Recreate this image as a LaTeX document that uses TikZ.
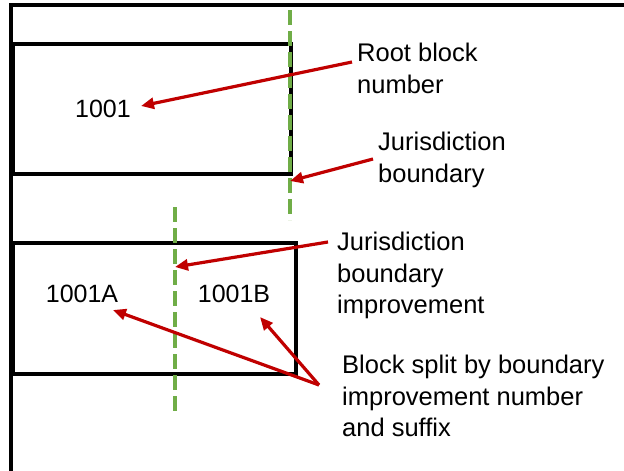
\documentclass[tikz,border=0pt]{standalone}
\usepackage{fontspec}
\setmainfont{Liberation Sans}
\usetikzlibrary{arrows.meta}
\definecolor{arrowred}{HTML}{C00000}
\definecolor{bgreen}{HTML}{70AD47}
\begin{document}
\begin{tikzpicture}[x=1pt,y=-1pt,
  frameline/.style={line width=3.2pt, black},
  block/.style={draw=black, line width=3.2pt},
  bound/.style={bgreen, line width=4.2pt, dash pattern=on 15pt off 6pt},
  callout/.style={arrowred, line width=3.2pt, -{Triangle[length=13pt,width=11pt]}},
  lbl/.style={anchor=north west, inner sep=0pt, align=left, font=\fontsize{25.5}{31.5}\selectfont},
  num/.style={inner sep=0pt, font=\fontsize{25}{30}\selectfont}]
\useasboundingbox (0,0) rectangle (624,471);
\clip (0,0) rectangle (624,471);
\fill[white] (0,0) rectangle (624,471);
% frame
\coordinate (fbl) at (11,480);
\coordinate (ftl) at (11,5);
\coordinate (ftr) at (630,5);
\draw[frameline] (fbl) -- (ftl) -- (ftr);
% blocks
\draw[block] (13,44) rectangle (291,174);
\draw[block] (13,243) rectangle (296,374);
% boundaries
\coordinate (b1top) at (290,10);
\coordinate (b1bot) at (290,220);
\coordinate (b2top) at (175,207);
\coordinate (b2bot) at (175,416);
\draw[bound] (b1top) -- (b1bot);
\draw[bound] (b2top) -- (b2bot);
% numbers
\node[num] (n1001) at (103,109) {1001};
\node[num] (n1001A) at (82,294) {1001A};
\node[num] (n1001B) at (234,294) {1001B};
% labels
\node[lbl] (lroot) at (357,43) {Root block\\number};
\node[lbl] (ljur) at (378,132) {Jurisdiction\\boundary};
\node[lbl] (limp) at (337,232) {Jurisdiction\\boundary\\improvement};
\node[lbl] (lsplit) at (342,355) {Block split by boundary\\improvement number\\and suffix};
% arrow points
\coordinate (rootT) at (352,62);
\coordinate (rootH) at (141,106);
\coordinate (jurT) at (373,159);
\coordinate (jurH) at (290,181);
\coordinate (impT) at (328,242);
\coordinate (impH) at (175,267);
\coordinate (apex) at (319,385);
\coordinate (aH) at (113,310);
\coordinate (bH) at (260,317);
\draw[callout] (rootT) -- (rootH);
\draw[callout] (jurT) -- (jurH);
\draw[callout] (impT) -- (impH);
\draw[callout] (apex) -- (aH);
\draw[callout] (apex) -- (bH);
\end{tikzpicture}
\end{document}
